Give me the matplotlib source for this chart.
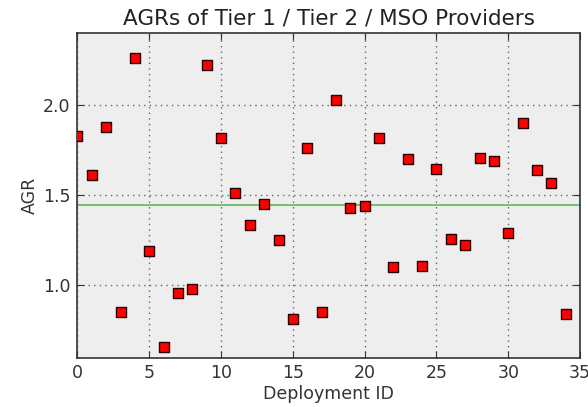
import numpy as np
import matplotlib
matplotlib.use("Agg")
import matplotlib.pyplot as plt

deployment_ids = list(range(35))
agr_values = [1.83, 1.61, 1.88, 0.85, 2.26, 1.19, 0.66, 0.96, 0.98, 2.22,
              1.82, 1.51, 1.335, 1.45, 1.25, 0.815, 1.76, 0.85, 2.03, 1.43,
              1.44, 1.82, 1.10, 1.70, 1.11, 1.645, 1.26, 1.225, 1.705, 1.69,
              1.29, 1.90, 1.64, 1.57, 0.84]
x_ticks = [0, 5, 10, 15, 20, 25, 30, 35]
y_ticks = [1.0, 1.5, 2.0]
y_tick_labels = ["1.0", "1.5", "2.0"]

fig = plt.figure(figsize=(5.88, 4.07), dpi=100)
ax = fig.add_axes([0.1318, 0.1216, 0.8546, 0.7973])
ax.set_facecolor("#eeeeee")

mean_agr = float(np.mean(agr_values))
ax.axhline(mean_agr, color="#5cb85c", lw=1.2, zorder=2)
ax.scatter(deployment_ids, agr_values, marker="s", s=45, facecolor="#ff0000",
           edgecolor="#2a0000", linewidths=1.0, zorder=3)

ax.set_xlim(0, 35)
ax.set_ylim(0.6, 2.4)
ax.set_xticks(x_ticks)
ax.set_yticks(y_ticks)
ax.set_yticklabels(y_tick_labels)
ax.grid(True, linestyle=(0, (1, 3)), color="#666666", lw=1.0)
ax.set_axisbelow(True)
ax.tick_params(direction="in", top=True, right=True, length=5,
               labelsize=12.5, colors="#333333", pad=5)
for sp in ax.spines.values():
    sp.set_color("#333333")
    sp.set_linewidth(1.2)

ax.set_title("AGRs of Tier 1 / Tier 2 / MSO Providers", fontsize=15.5,
             color="#222222", pad=6)
ax.set_xlabel("Deployment ID", fontsize=12.5, color="#333333", labelpad=2)
ax.set_ylabel("AGR", fontsize=12.5, color="#333333", labelpad=3)

fig.savefig("out.png", dpi=100)
